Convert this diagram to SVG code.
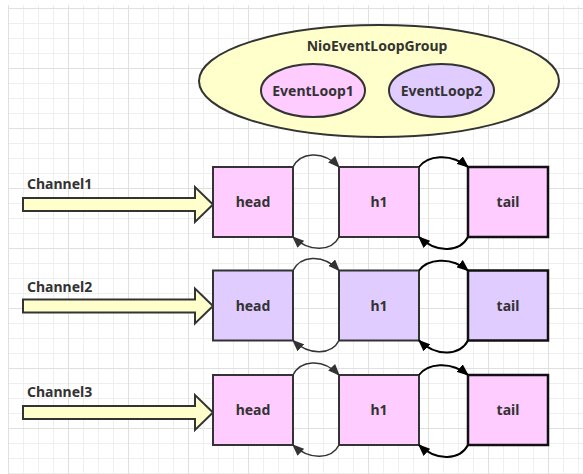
<svg xmlns="http://www.w3.org/2000/svg" width="583" height="474" viewBox="0 0 583 474">
<defs>
<pattern id="grid" x="8" y="8" width="60" height="60" patternUnits="userSpaceOnUse">
<path d="M15.5,0V60M30.5,0V60M45.5,0V60M0,15.5H60M0,30.5H60M0,45.5H60" stroke="#efefef" stroke-width="1" fill="none"/>
<path d="M0.5,0V60M0,0.5H60" stroke="#e0e0e0" stroke-width="1" fill="none"/>
</pattern>
<marker id="ag" viewBox="0 0 10 8" refX="9" refY="4" markerWidth="12" markerHeight="9.5" markerUnits="userSpaceOnUse" orient="auto">
<path d="M0,0L10,4L0,8z" fill="#333"/>
</marker>
<marker id="ab" viewBox="0 0 10 8" refX="9" refY="4" markerWidth="12" markerHeight="10" markerUnits="userSpaceOnUse" orient="auto">
<path d="M0,0L10,4L0,8z" fill="#000"/>
</marker>
</defs>
<style>
text{font-family:"Noto Sans","DejaVu Sans",sans-serif;font-weight:bold;font-size:14px;fill:#333;}
.c{text-anchor:middle;}
.box{stroke:#333;stroke-width:2;}
.tail{stroke:#111;stroke-width:2.5;}
.pink{fill:#FFCCFF;}
.purple{fill:#E1CCFF;}
.yellow{fill:#FFFFCC;}
.el{stroke:#333;stroke-width:2;}
.pipe{fill:#FFFFCC;stroke:#333;stroke-width:2;stroke-linejoin:miter;}
.a1{fill:none;stroke:#333;stroke-width:1.6;marker-end:url(#ag);}
.a2{fill:none;stroke:#000;stroke-width:2;marker-end:url(#ab);}
</style>
<rect x="0" y="0" width="583" height="474" fill="#ffffff"/>
<rect x="8" y="5" width="575" height="469" fill="url(#grid)"/>

<g id="group">
<ellipse cx="379" cy="81" rx="180" ry="56" class="el yellow"/>
<text x="377" y="51" class="c">NioEventLoopGroup</text>
</g>
<g id="eventloop1">
<ellipse cx="313" cy="90.5" rx="52" ry="26.5" class="el pink"/>
<text x="313" y="96" class="c">EventLoop1</text>
</g>
<g id="eventloop2">
<ellipse cx="441.5" cy="90.5" rx="52.5" ry="26.5" class="el purple"/>
<text x="441.5" y="96" class="c">EventLoop2</text>
</g>

<g id="channel1">
<text x="27" y="189">Channel1</text>
<polygon class="pipe" points="23,198 195,198 195,187 213,204.5 195,222 195,211 23,211"/>
</g>
<g id="channel2">
<text x="27" y="292">Channel2</text>
<polygon class="pipe" points="23,299.5 195,299.5 195,288.5 213,306 195,323.5 195,312.5 23,312.5"/>
</g>
<g id="channel3">
<text x="27" y="397">Channel3</text>
<polygon class="pipe" points="23,406 195,406 195,395 213,412.5 195,430 195,419 23,419"/>
</g>

<g id="row1-head"><rect x="213" y="167" width="80" height="70" class="box pink"/><text x="253" y="207" class="c">head</text></g>
<g id="row1-h1"><rect x="339" y="167" width="80" height="70" class="box pink"/><text x="379" y="207" class="c">h1</text></g>
<g id="row1-tail"><rect x="468" y="167" width="80" height="70" class="tail pink"/><text x="508" y="207" class="c">tail</text></g>

<g id="row2-head"><rect x="213" y="270.5" width="80" height="70" class="box purple"/><text x="253" y="310.5" class="c">head</text></g>
<g id="row2-h1"><rect x="339" y="270.5" width="80" height="70" class="box purple"/><text x="379" y="310.5" class="c">h1</text></g>
<g id="row2-tail"><rect x="468" y="270.5" width="80" height="70" class="tail purple"/><text x="508" y="310.5" class="c">tail</text></g>

<g id="row3-head"><rect x="213" y="375" width="80" height="70" class="box pink"/><text x="253" y="415" class="c">head</text></g>
<g id="row3-h1"><rect x="339" y="375" width="80" height="70" class="box pink"/><text x="379" y="415" class="c">h1</text></g>
<g id="row3-tail"><rect x="468" y="375" width="80" height="70" class="tail pink"/><text x="508" y="415" class="c">tail</text></g>

<g id="connectors">
<path class="a1" d="M293,167 C300,153 322,149 339,167"/>
<path class="a1" d="M339,237 C332,251 310,253 293,237"/>
<path class="a2" d="M419,167 C427,156 450,152 468,167"/>
<path class="a2" d="M468,237 C460,252 437,254 419,237"/>

<path class="a1" d="M293,270.5 C300,256.5 322,252.5 339,270.5"/>
<path class="a1" d="M339,340.5 C332,354.5 310,356.5 293,340.5"/>
<path class="a2" d="M419,270.5 C427,259.5 450,255.5 468,270.5"/>
<path class="a2" d="M468,340.5 C460,355.5 437,357.5 419,340.5"/>

<path class="a1" d="M293,375 C300,361 322,357 339,375"/>
<path class="a1" d="M339,445 C332,459 310,461 293,445"/>
<path class="a2" d="M419,375 C427,364 450,360 468,375"/>
<path class="a2" d="M468,445 C460,460 437,462 419,445"/>
</g>
</svg>
